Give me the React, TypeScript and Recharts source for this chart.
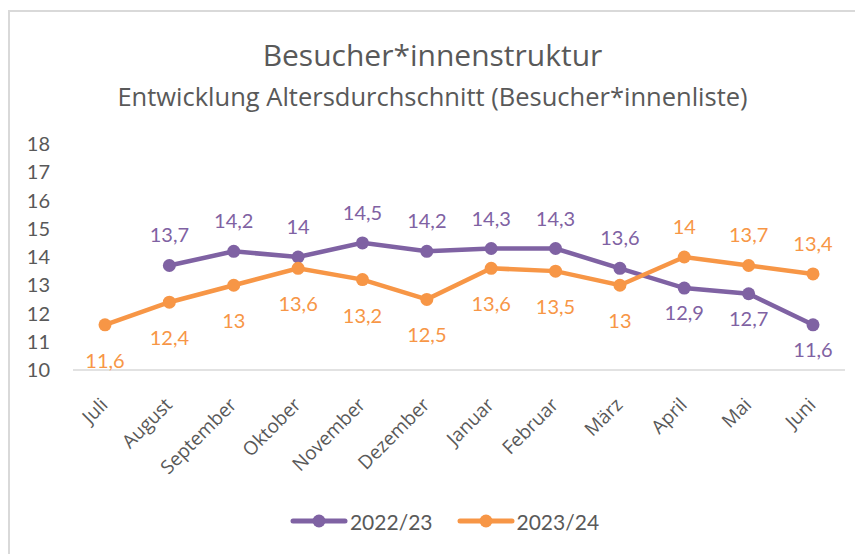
import { Legend, Line, LineChart, XAxis, YAxis, LabelList } from "recharts";

const months = [
  "Juli",
  "August",
  "September",
  "Oktober",
  "November",
  "Dezember",
  "Januar",
  "Februar",
  "März",
  "April",
  "Mai",
  "Juni",
];

const season2223: (number | null)[] = [null, 13.7, 14.2, 14, 14.5, 14.2, 14.3, 14.3, 13.6, 12.9, 12.7, 11.6];
const season2324: (number | null)[] = [11.6, 12.4, 13, 13.6, 13.2, 12.5, 13.6, 13.5, 13, 14, 13.7, 13.4];

const yTicks = [10, 11, 12, 13, 14, 15, 16, 17, 18];

const PURPLE = "#7f62a3";
const ORANGE = "#f79646";
const TEXT = "#595959";
const FONT = "Lato, 'Open Sans', sans-serif";
const WIDE = "'Open Sans', Lato, sans-serif";

const chartData = months.map((month, i) => ({
  month,
  s2223: season2223[i],
  s2324: season2324[i],
}));

function fmt(v: number) {
  return String(v).replace(".", ",");
}

// label goes above the line when the series is the higher one at that month
function makeLabel(own: (number | null)[], other: (number | null)[], color: string) {
  return (props: any) => {
    const { x, y, value, index } = props;
    if (value == null) return null;
    const o = other[index];
    const above = o != null && (own[index] as number) > o;
    const dy = above ? -31 : own === season2223 ? 24 : 35;
    return (
      <text
        x={x}
        y={y + dy}
        textAnchor="middle"
        dominantBaseline="central"
        fill={color}
        fontSize={20}
        fontFamily={FONT}
      >
        {fmt(value)}
      </text>
    );
  };
}

function MonthTick(props: any) {
  const { x, y, payload } = props;
  const ax = x + 4;
  const ay = y + 34;
  return (
    <text
      x={ax}
      y={ay}
      transform={`rotate(-45, ${ax}, ${ay})`}
      textAnchor="end"
      fill={TEXT}
      fontSize={19}
      fontFamily={WIDE}
    >
      {payload.value}
    </text>
  );
}

function LegendContent() {
  const items = [
    { name: "2022/23", color: PURPLE },
    { name: "2023/24", color: ORANGE },
  ];
  return (
    <div
      style={{
        height: 30,
        display: "flex",
        justifyContent: "center",
        alignItems: "center",
        gap: 24,
        fontFamily: FONT,
        fontSize: 21,
        color: TEXT,
        paddingLeft: 34,
      }}
    >
      {items.map((it) => (
        <div key={it.name} style={{ display: "flex", alignItems: "center" }}>
          <svg width={58} height={16}>
            <line x1={3} y1={8} x2={55} y2={8} stroke={it.color} strokeWidth={5} strokeLinecap="round" />
            <circle cx={29} cy={8} r={6.5} fill={it.color} />
          </svg>
          <span style={{ marginLeft: 2 }}>{it.name}</span>
        </div>
      ))}
    </div>
  );
}

export default function App() {
  return (
    <div
      style={{
        position: "relative",
        width: 855,
        height: 546,
        marginTop: 2,
        borderTop: "2px solid #d9d9d9",
        borderLeft: "2px solid #d9d9d9",
        boxSizing: "border-box",
        background: "#ffffff",
      }}
    >
      <div
        style={{
          position: "absolute",
          top: 25,
          left: 0,
          width: 845,
          textAlign: "center",
          fontFamily: WIDE,
          fontSize: 30,
          lineHeight: "36px",
          color: TEXT,
        }}
      >
        Besucher*innenstruktur
      </div>
      <div
        style={{
          position: "absolute",
          top: 69,
          left: 0,
          width: 845,
          textAlign: "center",
          fontFamily: WIDE,
          fontSize: 25.5,
          lineHeight: "30px",
          color: TEXT,
        }}
      >
        Entwicklung Altersdurchschnitt (Besucher*innenliste)
      </div>
      <LineChart
        width={853}
        height={544}
        data={chartData}
        margin={{ top: 132, right: 18, bottom: 20, left: 0 }}
      >
        <XAxis
          dataKey="month"
          interval={0}
          height={136}
          padding={{ left: 32, right: 32 }}
          axisLine={{ stroke: "#d9d9d9", strokeWidth: 1.5 }}
          tickLine={false}
          tickSize={0}
          tick={<MonthTick />}
        />
        <YAxis
          domain={[10, 18]}
          ticks={yTicks}
          width={63}
          axisLine={false}
          tickLine={false}
          tickSize={0}
          tickMargin={23}
          tick={{ fill: TEXT, fontSize: 20, fontFamily: FONT }}
        />
        <Legend verticalAlign="bottom" content={<LegendContent />} />
        <Line
          dataKey="s2223"
          name="2022/23"
          stroke={PURPLE}
          strokeWidth={4.5}
          dot={{ r: 6.5, fill: PURPLE, stroke: PURPLE, strokeWidth: 0 }}
          isAnimationActive={false}
        >
          <LabelList dataKey="s2223" content={makeLabel(season2223, season2324, PURPLE)} />
        </Line>
        <Line
          dataKey="s2324"
          name="2023/24"
          stroke={ORANGE}
          strokeWidth={4.5}
          dot={{ r: 6.5, fill: ORANGE, stroke: ORANGE, strokeWidth: 0 }}
          isAnimationActive={false}
        >
          <LabelList dataKey="s2324" content={makeLabel(season2324, season2223, ORANGE)} />
        </Line>
      </LineChart>
    </div>
  );
}
